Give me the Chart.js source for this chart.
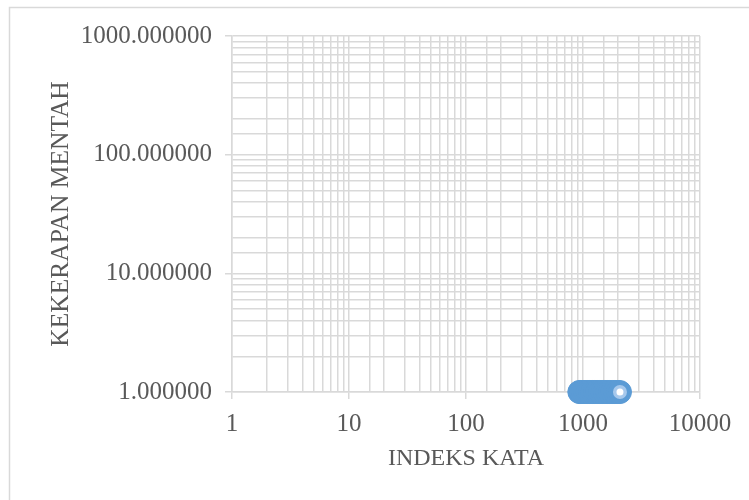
<!DOCTYPE html>
<html>
<head>
<meta charset="utf-8">
<script src="https://cdn.jsdelivr.net/npm/chart.js@4/dist/chart.umd.min.js"></script>
<style>
  html, body { margin: 0; padding: 0; background: #ffffff; }
  #wrap { width: 749px; height: 500px; position: relative; }
</style>
</head>
<body>
<div id="wrap"><canvas id="c" width="749" height="500"></canvas></div>
<script>
// Word index (x) and raw frequency (y)
const wordIndex = [930, 960, 1000, 1040, 1090, 1140, 1200, 1260, 1320, 1390, 1460, 1530, 1610, 1690, 1780, 1870, 1970, 2070];
const rawFrequency = [1, 1, 1, 1, 1, 1, 1, 1, 1, 1, 1, 1, 1, 1, 1, 1, 1, 1];
const xTickLabels = [1, 10, 100, 1000, 10000];
const yTickLabels = [1, 10, 100, 1000];

const points = wordIndex.map((x, i) => ({ x: x, y: rawFrequency[i] }));
const lastIdx = points.length - 1;

const BLUE = '#5b9bd5';
const GRID = '#d9d9d9';
const TEXT = '#595959';
const FONT = 'Liberation Serif';

const isPow10 = v => Math.abs(Math.log10(v) - Math.round(Math.log10(v))) < 1e-9;

// thin frame around the whole chart
const frame = {
  id: 'frame',
  beforeDraw(chart) {
    const ctx = chart.ctx;
    ctx.save();
    ctx.fillStyle = '#ffffff';
    ctx.fillRect(0, 0, chart.width, chart.height);
    ctx.strokeStyle = GRID;
    ctx.lineWidth = 1.5;
    ctx.strokeRect(9.5, 7.5, 900, 700);
    ctx.restore();
  }
};

new Chart(document.getElementById('c'), {
  type: 'scatter',
  data: {
    datasets: [
      {
        label: 'KEKERAPAN MENTAH',
        data: points,
        order: 2,
        backgroundColor: BLUE,
        borderColor: BLUE,
        pointRadius: 11.5,
        pointBorderWidth: 1,
        pointHoverRadius: 11.5,
        clip: false
      },
      {
        label: 'selected',
        data: [points[lastIdx]],
        order: 1,
        backgroundColor: '#ffffff',
        borderColor: '#a6c8ec',
        pointRadius: 5.25,
        pointBorderWidth: 3.5,
        pointHoverRadius: 5.25,
        clip: false
      }
    ]
  },
  plugins: [frame],
  options: {
    responsive: false,
    animation: false,
    events: [],
    layout: { padding: { top: 36, right: 49, bottom: 0, left: 0 } },
    plugins: { legend: { display: false }, tooltip: { enabled: false } },
    scales: {
      x: {
        type: 'logarithmic',
        position: 'bottom',
        min: 1,
        max: 10000,
        afterFit: s => { s.height = 108; },
        border: { display: true, color: GRID, width: 1.5 },
        grid: {
          color: GRID,
          lineWidth: 1.5,
          drawTicks: true,
          tickLength: 7,
          tickColor: ctx => (ctx.tick && isPow10(ctx.tick.value)) ? GRID : 'rgba(0,0,0,0)'
        },
        ticks: {
          autoSkip: false,
          maxRotation: 0,
          padding: 10,
          color: TEXT,
          font: { family: FONT, size: 25 },
          callback: v => xTickLabels.includes(v) ? String(v) : ''
        },
        title: {
          display: true,
          text: 'INDEKS KATA',
          color: TEXT,
          font: { family: FONT, size: 24 },
          padding: { top: 0, bottom: 27 }
        }
      },
      y: {
        type: 'logarithmic',
        position: 'left',
        min: 1,
        max: 1000,
        afterFit: s => { s.width = 232; },
        border: { display: true, color: GRID, width: 1.5 },
        grid: {
          color: GRID,
          lineWidth: 1.5,
          drawTicks: true,
          tickLength: 7,
          tickColor: ctx => (ctx.tick && isPow10(ctx.tick.value)) ? GRID : 'rgba(0,0,0,0)'
        },
        ticks: {
          autoSkip: false,
          padding: 13,
          color: TEXT,
          font: { family: FONT, size: 25 },
          callback: v => yTickLabels.includes(v) ? v.toFixed(6) : ''
        },
        title: {
          display: true,
          text: 'KEKERAPAN MENTAH',
          color: TEXT,
          font: { family: FONT, size: 25.5 },
          padding: { top: 46, bottom: 0 }
        }
      }
    }
  }
});
</script>
</body>
</html>
